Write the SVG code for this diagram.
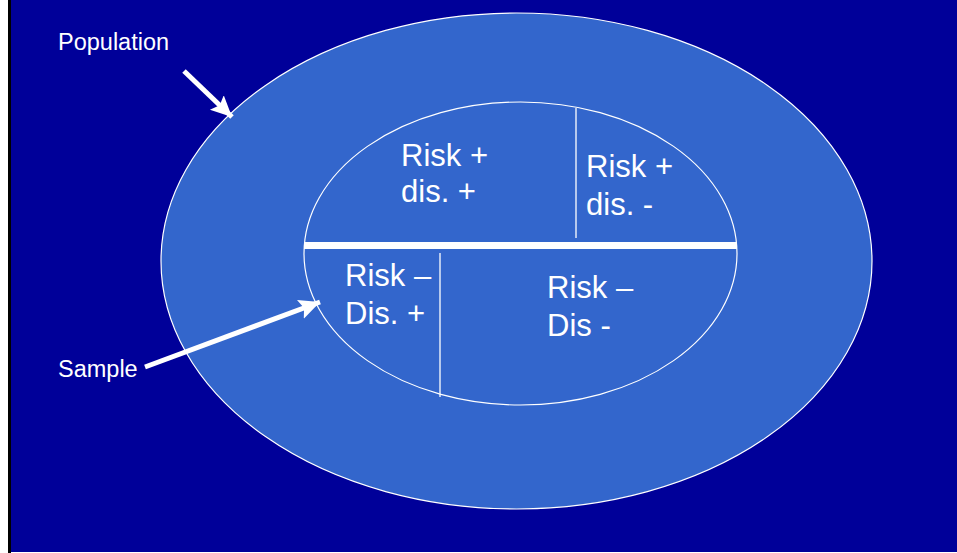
<svg xmlns="http://www.w3.org/2000/svg" width="957" height="553" viewBox="0 0 957 553">
<style>
.ell{fill:#3366CC;stroke:#FFFFFF;stroke-width:1.2}
.div{stroke:#FFFFFF;stroke-width:1.3}
.big{font-family:"Liberation Sans",Arial,sans-serif;font-size:31px;fill:#FFFFFF}
.lbl{font-family:"Liberation Sans",Arial,sans-serif;font-size:23.5px;fill:#FFFFFF}
.arr{stroke:#FFFFFF;stroke-width:5;fill:none}
</style>
<defs>
<marker id="ah" markerUnits="userSpaceOnUse" markerWidth="24" markerHeight="22" refX="21" refY="10" orient="auto">
<path d="M0,0 L21,10 L0,20 L4,10 Z" fill="#FFFFFF"/>
</marker>
</defs>
<rect x="0" y="0" width="957" height="553" fill="#FFFFFF"/>
<rect x="8" y="0" width="3" height="553" fill="#000000"/>
<rect x="11" y="0" width="946" height="552" fill="#000099"/>
<g id="population">
<ellipse class="ell" cx="516.5" cy="261" rx="355.5" ry="248"/>
</g>
<g id="sample">
<ellipse class="ell" cx="520.5" cy="253.5" rx="216.5" ry="151.5"/>
<line x1="304" y1="245.5" x2="737" y2="245.5" stroke="#FFFFFF" stroke-width="7"/>
<line class="div" x1="576" y1="108" x2="576" y2="238"/>
<line class="div" x1="440" y1="253" x2="440" y2="397"/>
</g>
<g id="risk-pos-dis-pos"><text class="big" x="401" y="166">Risk +</text><text class="big" x="401" y="202">dis. +</text></g>
<g id="risk-pos-dis-neg"><text class="big" x="586" y="177">Risk +</text><text class="big" x="586" y="215">dis. -</text></g>
<g id="risk-neg-dis-pos"><text class="big" x="345" y="286">Risk –</text><text class="big" x="345" y="324">Dis. +</text></g>
<g id="risk-neg-dis-neg"><text class="big" x="547" y="298">Risk –</text><text class="big" x="547" y="336">Dis -</text></g>
<g id="label-population"><text class="lbl" x="58" y="50">Population</text></g>
<g id="label-sample"><text class="lbl" x="58" y="377">Sample</text></g>
<g id="connectors">
<line class="arr" x1="184" y1="71" x2="232" y2="117" marker-end="url(#ah)"/>
<line class="arr" x1="145" y1="367" x2="320" y2="302" marker-end="url(#ah)"/>
</g>
</svg>
